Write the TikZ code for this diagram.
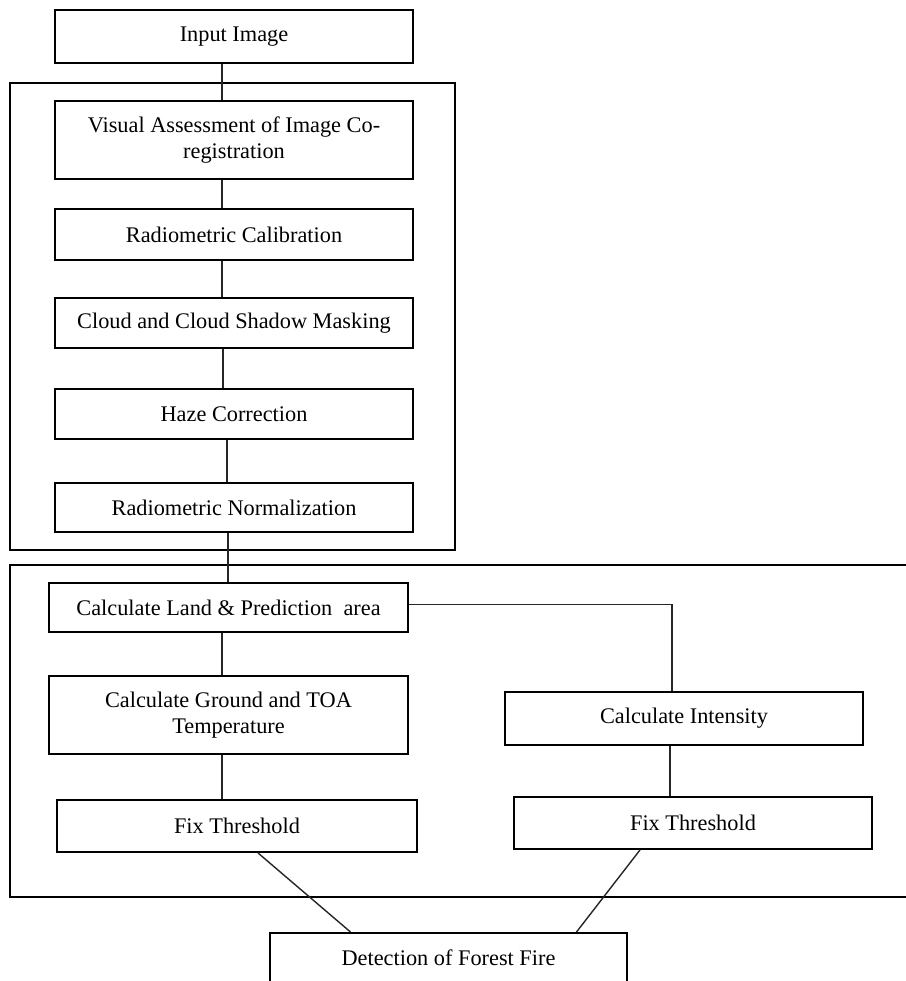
\documentclass[tikz,border=0pt]{standalone}
\usepackage{fontspec}
\setmainfont{Liberation Serif}
\tikzset{
    % plain process box
    procbox/.style={
           rectangle,
           draw=black, line width=1.1pt,
           minimum width=7.16cm,
           minimum height=1.0cm,
           inner sep=2pt,
           font=\fontsize{12.7}{15}\selectfont,
           align=center,
           fill=white},
    tallbox/.style={procbox, minimum height=1.56cm},
    % frame around a group of steps
    frame/.style={draw=black, line width=1.1pt},
    % connecting line
    pil/.style={draw=black!85, line width=0.8pt}
}
\begin{document}
\begin{tikzpicture}[x=0.02cm,y=-0.02cm]
\useasboundingbox (0,0) rectangle (906,981);
 %frames
\draw[frame] (10,83) rectangle (455,550);
\draw[frame] (10,565) rectangle (915,897);
 %nodes
\node[procbox, minimum height=1.06cm] (input) at (234,36.5) {Input Image};
\node[tallbox] (visual) at (234,140) {Visual Assessment of Image Co-\\registration};
\node[procbox, minimum height=1.02cm] (calib) at (234,234.5) {Radiometric Calibration};
\node[procbox] (cloud) at (234,323) {Cloud and Cloud Shadow Masking};
\node[procbox] (haze) at (234,414) {Haze Correction};
\node[procbox, minimum height=0.98cm] (norm) at (234,507.5) {Radiometric Normalization};
\node[procbox, minimum width=7.18cm, minimum height=0.98cm] (land) at (228.5,607.5) {Calculate Land \& Prediction\ \ area};
\node[tallbox, minimum width=7.18cm] (ground) at (228.5,715) {Calculate Ground and TOA\\Temperature};
\node[procbox, minimum width=7.2cm, minimum height=1.04cm] (fixl) at (237,826) {Fix Threshold};
\node[procbox, minimum height=1.06cm] (intens) at (684,718.5) {Calculate Intensity};
\node[procbox, minimum height=1.04cm] (fixr) at (693,823) {Fix Threshold};
\node[procbox, minimum width=7.14cm, text height=0.59cm, text depth=0.5cm, anchor=north] (detect) at (448.5,932) {Detection of Forest Fire};
 %connectors
\path[pil] ([xshift=-12*0.02cm]input.south) -- ([xshift=-12*0.02cm]visual.north);
\path[pil] ([xshift=-12*0.02cm]visual.south) -- ([xshift=-12*0.02cm]calib.north);
\path[pil] ([xshift=-12*0.02cm]calib.south) -- ([xshift=-12*0.02cm]cloud.north);
\path[pil] ([xshift=-11*0.02cm]cloud.south) -- ([xshift=-11*0.02cm]haze.north);
\path[pil] ([xshift=-7*0.02cm]haze.south) -- ([xshift=-7*0.02cm]norm.north);
\path[pil] ([xshift=-6*0.02cm]norm.south) -- ([xshift=-0.5*0.02cm]land.north);
\path[pil] ([xshift=-6.5*0.02cm]land.south) -- ([xshift=-6.5*0.02cm]ground.north);
\path[pil] ([xshift=-6.5*0.02cm]ground.south) -- ([xshift=-15*0.02cm]fixl.north);
\path[pil] ([yshift=0.06cm]land.east) -| ([xshift=-12*0.02cm]intens.north);
\path[pil] ([xshift=-14*0.02cm]intens.south) -- ([xshift=-23*0.02cm]fixr.north);
\path[pil] ([xshift=21*0.02cm]fixl.south) -- ([xshift=-98*0.02cm]detect.north);
\path[pil] ([xshift=-53*0.02cm]fixr.south) -- ([xshift=128*0.02cm]detect.north);
\end{tikzpicture}
\end{document}
